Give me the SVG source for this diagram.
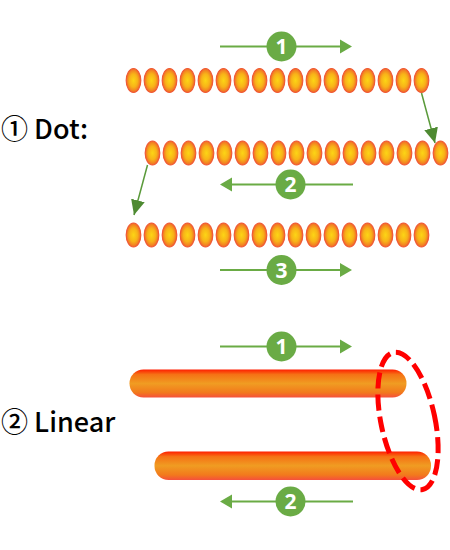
<svg xmlns="http://www.w3.org/2000/svg" xmlns:xlink="http://www.w3.org/1999/xlink" width="450" height="550" viewBox="0 0 450 550">
<defs>
<radialGradient id="dotg" cx="0.5" cy="0.5" r="0.5">
<stop offset="0" stop-color="#fcd515"/>
<stop offset="0.55" stop-color="#f8b318"/>
<stop offset="1" stop-color="#f06a28"/>
</radialGradient>
<linearGradient id="barg" x1="0" y1="0" x2="0" y2="1">
<stop offset="0" stop-color="#ff1e00"/>
<stop offset="0.18" stop-color="#f57215"/>
<stop offset="0.5" stop-color="#f09c22"/>
<stop offset="0.82" stop-color="#f27a1c"/>
<stop offset="1" stop-color="#f5503c"/>
</linearGradient>
<ellipse id="dot" cx="0" cy="0" rx="7.3" ry="12" fill="url(#dotg)" stroke="#f05a36" stroke-width="1.2"/>
<marker id="dk" markerWidth="16" markerHeight="14" refX="15" refY="7" orient="auto" markerUnits="userSpaceOnUse">
<path d="M0,0 L15,7 L0,14 Z" fill="#4e8a32"/>
</marker>
</defs>
<style>
.lbl{font-family:"Noto Sans CJK JP","Noto Sans",sans-serif;font-weight:500;font-size:27px;fill:#000}
.ln{stroke:#6aab45;stroke-width:2;fill:none}
.hd{fill:#6aab45}
.nc{fill:#6aab45}
.nt{font-family:"Noto Sans","Open Sans",sans-serif;font-weight:700;font-size:21px;fill:#fff;text-anchor:middle}
.dg{stroke:#5a9a3a;stroke-width:1.5;fill:none}
</style>

<g id="label-dot"><text class="lbl" x="1" y="139">① Dot:</text></g>
<g id="label-linear"><text class="lbl" x="1" y="432">② Linear</text></g>

<g id="dots-row1">
<use xlink:href="#dot" x="133.5" y="80.5"/><use xlink:href="#dot" x="151.5" y="80.5"/><use xlink:href="#dot" x="169.5" y="80.5"/><use xlink:href="#dot" x="187.5" y="80.5"/><use xlink:href="#dot" x="205.5" y="80.5"/><use xlink:href="#dot" x="223.5" y="80.5"/><use xlink:href="#dot" x="241.5" y="80.5"/><use xlink:href="#dot" x="259.5" y="80.5"/><use xlink:href="#dot" x="277.5" y="80.5"/><use xlink:href="#dot" x="295.5" y="80.5"/><use xlink:href="#dot" x="313.5" y="80.5"/><use xlink:href="#dot" x="331.5" y="80.5"/><use xlink:href="#dot" x="349.5" y="80.5"/><use xlink:href="#dot" x="367.5" y="80.5"/><use xlink:href="#dot" x="385.5" y="80.5"/><use xlink:href="#dot" x="403.5" y="80.5"/><use xlink:href="#dot" x="421.5" y="80.5"/>
</g>
<g id="dots-row2">
<use xlink:href="#dot" x="152.5" y="153"/><use xlink:href="#dot" x="170.5" y="153"/><use xlink:href="#dot" x="188.5" y="153"/><use xlink:href="#dot" x="206.5" y="153"/><use xlink:href="#dot" x="224.5" y="153"/><use xlink:href="#dot" x="242.5" y="153"/><use xlink:href="#dot" x="260.5" y="153"/><use xlink:href="#dot" x="278.5" y="153"/><use xlink:href="#dot" x="296.5" y="153"/><use xlink:href="#dot" x="314.5" y="153"/><use xlink:href="#dot" x="332.5" y="153"/><use xlink:href="#dot" x="350.5" y="153"/><use xlink:href="#dot" x="368.5" y="153"/><use xlink:href="#dot" x="386.5" y="153"/><use xlink:href="#dot" x="404.5" y="153"/><use xlink:href="#dot" x="422.5" y="153"/><use xlink:href="#dot" x="440.5" y="153"/>
</g>
<g id="dots-row3">
<use xlink:href="#dot" x="133.5" y="235"/><use xlink:href="#dot" x="151.5" y="235"/><use xlink:href="#dot" x="169.5" y="235"/><use xlink:href="#dot" x="187.5" y="235"/><use xlink:href="#dot" x="205.5" y="235"/><use xlink:href="#dot" x="223.5" y="235"/><use xlink:href="#dot" x="241.5" y="235"/><use xlink:href="#dot" x="259.5" y="235"/><use xlink:href="#dot" x="277.5" y="235"/><use xlink:href="#dot" x="295.5" y="235"/><use xlink:href="#dot" x="313.5" y="235"/><use xlink:href="#dot" x="331.5" y="235"/><use xlink:href="#dot" x="349.5" y="235"/><use xlink:href="#dot" x="367.5" y="235"/><use xlink:href="#dot" x="385.5" y="235"/><use xlink:href="#dot" x="403.5" y="235"/><use xlink:href="#dot" x="421.5" y="235"/>
</g>

<g id="bar1"><rect x="129.5" y="369.5" width="277" height="28" rx="14" fill="url(#barg)"/></g>
<g id="bar2"><rect x="154.5" y="451.5" width="276.5" height="28.5" rx="14" fill="url(#barg)"/></g>

<g id="connectors">
<line class="dg" x1="421.5" y1="93" x2="435" y2="143" marker-end="url(#dk)"/>
<line class="dg" x1="147.5" y1="165" x2="134" y2="215" marker-end="url(#dk)"/>

<line class="ln" x1="220" y1="46.5" x2="341" y2="46.5"/><path class="hd" d="M352,46.5 L340,39.5 L340,53.5 Z"/>
<line class="ln" x1="231" y1="184.5" x2="353" y2="184.5"/><path class="hd" d="M220,184.5 L232,177.5 L232,191.5 Z"/>
<line class="ln" x1="220" y1="270" x2="341" y2="270"/><path class="hd" d="M352,270 L340,263 L340,277 Z"/>
<line class="ln" x1="220" y1="346.5" x2="341" y2="346.5"/><path class="hd" d="M352,346.5 L340,339.5 L340,353.5 Z"/>
<line class="ln" x1="231" y1="501.5" x2="353" y2="501.5"/><path class="hd" d="M220,501.5 L232,494.5 L232,508.5 Z"/>
</g>

<g id="num1a"><circle class="nc" cx="281.5" cy="46.5" r="15"/><text class="nt" x="281.5" y="54">1</text></g>
<g id="num2a"><circle class="nc" cx="290.5" cy="184.5" r="15"/><text class="nt" x="290.5" y="192">2</text></g>
<g id="num3a"><circle class="nc" cx="281.5" cy="270" r="15"/><text class="nt" x="281.5" y="277.5">3</text></g>
<g id="num1b"><circle class="nc" cx="281.5" cy="346.5" r="15"/><text class="nt" x="281.5" y="354">1</text></g>
<g id="num2b"><circle class="nc" cx="290.5" cy="501.5" r="15"/><text class="nt" x="290.5" y="509">2</text></g>

<g id="highlight"><ellipse cx="408" cy="421" rx="27" ry="70" transform="rotate(-12 408 421)" fill="none" stroke="#f00" stroke-width="5" stroke-dasharray="16 6"/></g>
</svg>
